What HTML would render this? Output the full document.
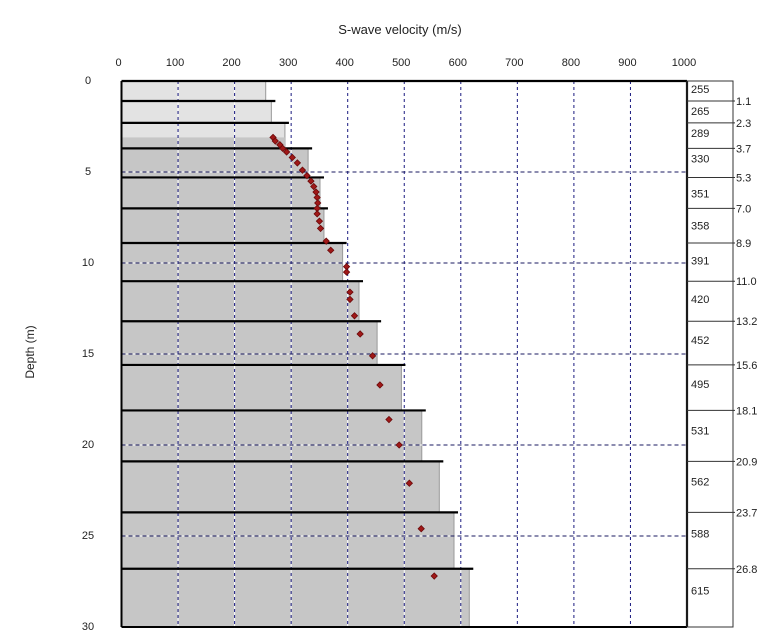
<!DOCTYPE html>
<html><head><meta charset="utf-8"><style>
body{margin:0;background:#fff;}
svg{display:block;font-family:"Liberation Sans",Arial,sans-serif;}
</style></head><body>
<svg id="c" width="768" height="634" xmlns="http://www.w3.org/2000/svg">
<text x="400" y="34" font-size="13" text-anchor="middle" fill="#222">S-wave velocity (m/s)</text>
<text x="34" y="352" font-size="12" text-anchor="middle" fill="#222" transform="rotate(-90 34 352)">Depth (m)</text>
<g id="g"></g>
</svg>
<script>
const boundaries=[1.1,2.3,3.7,5.3,7.0,8.9,11.0,13.2,15.6,18.1,20.9,23.7,26.8];
const velocities=[255,265,289,330,351,358,391,420,452,495,531,562,588,615];
const xTicks=[0,100,200,300,400,500,600,700,800,900,1000];
const yTicks=[0,5,10,15,20,25,30];
const pointDepths=[3.1,3.3,3.5,3.7,3.9,4.2,4.5,4.9,5.2,5.5,5.8,6.1,6.4,6.7,7.0,7.3,7.7,8.1,8.8,9.3,10.2,10.5,11.6,12.0,12.9,13.9,15.1,16.7,18.6,20.0,22.1,24.6,27.2];
const pointVels=[268,272,280,285,292,302,311,320,328,335,340,344,346,347,346,346,350,352,362,370,398,398,404,404,412,422,444,457,473,491,509,530,553];
const maxDepth=30;
const X0=121.5,X1=687,Y0=81,Y1=627;
const sx=v=>X0+(X1-X0)*v/1000;
const sy=d=>Y0+(Y1-Y0)*d/maxDepth;
const NS='http://www.w3.org/2000/svg';
const g=document.getElementById('g');
function mk(t,a,p){const e=document.createElementNS(NS,t);for(const k in a)e.setAttribute(k,a[k]);(p||g).appendChild(e);return e;}
const tops=[0].concat(boundaries), bots=boundaries.concat([maxDepth]);
velocities.forEach((v,i)=>{
  const light=i<3;
  const r=mk('rect',{x:X0,y:sy(tops[i]),width:sx(v)-X0,height:sy(bots[i])-sy(tops[i]),fill:light?'#e3e3e3':'#c6c6c6'});
  
  
  mk('line',{x1:sx(v),y1:sy(tops[i]),x2:sx(v),y2:sy(bots[i]),stroke:'#999','stroke-width':1});
});
{mk('rect',{x:X0,y:sy(3.1),width:sx(velocities[2])-X0,height:sy(boundaries[2])-sy(3.1),fill:'#c6c6c6'});}
xTicks.slice(1,-1).forEach(t=>{
  mk('line',{x1:sx(t),y1:Y0,x2:sx(t),y2:Y1,stroke:'#fff','stroke-width':1});
  const l=mk('line',{x1:sx(t),y1:Y0,x2:sx(t),y2:Y1,stroke:'#1a1a80','stroke-width':1,'stroke-dasharray':'3 3'});
  
  
});
yTicks.slice(1,-1).forEach(t=>{
  mk('line',{x1:X0,y1:sy(t),x2:X1,y2:sy(t),stroke:'#fff','stroke-width':1});
  const l=mk('line',{x1:X0,y1:sy(t),x2:X1,y2:sy(t),stroke:'#1a1a60','stroke-width':1,'stroke-dasharray':'4 3'});
  
  
});
boundaries.forEach((b,i)=>{
  const v=velocities[i+1];
  const l=mk('line',{x1:X0,y1:sy(b),x2:sx(v)+4,y2:sy(b),stroke:'#000','stroke-width':2.2});
  
  
});
mk('line',{x1:X0,y1:Y0,x2:X1,y2:Y0,stroke:'#000','stroke-width':2.2});
mk('line',{x1:X0,y1:Y0,x2:X0,y2:Y1,stroke:'#000','stroke-width':2});
mk('line',{x1:X0,y1:Y1,x2:X1,y2:Y1,stroke:'#000','stroke-width':2});
mk('line',{x1:X1,y1:Y0,x2:X1,y2:Y1,stroke:'#000','stroke-width':2.2});
pointDepths.forEach((d,i)=>{
  const c=mk('rect',{x:sx(pointVels[i])-2.2,y:sy(d)-2.2,width:4.4,height:4.4,fill:'#a01818',stroke:'#6a0a0a','stroke-width':0.8,transform:`rotate(45 ${sx(pointVels[i])} ${sy(d)})`});
  
  
});
xTicks.forEach(t=>{
  const e=mk('text',{x:sx(t)-3,y:66,'font-size':11,'text-anchor':'middle',fill:'#222'});
  e.textContent=t;
  
  
});
yTicks.forEach(t=>{
  const e=mk('text',{x:88,y:sy(t)+3,'font-size':11,'text-anchor':'middle',fill:'#222'});
  e.textContent=t;
  
  
});
const TX=733;
const box=mk('rect',{x:X1,y:Y0,width:TX-X1,height:Y1-Y0,fill:'none',stroke:'#333','stroke-width':1});


boundaries.forEach(b=>{
  mk('line',{x1:X1,y1:sy(b),x2:TX+2,y2:sy(b),stroke:'#333','stroke-width':1});
  const e=mk('text',{x:TX+3,y:sy(b)+4,'font-size':11,fill:'#222'});
  e.textContent=b.toFixed(1);
  
  
});
velocities.forEach((v,i)=>{
  const h=sy(bots[i])-sy(tops[i]);
  const e=mk('text',{x:X1+4,y:sy(tops[i])+Math.min(12,h/2+4)+(h>30?h*0.2:0)+(i>0?2:0),'font-size':11,fill:'#222'});
  e.textContent=v;
  
  
});
</script>
</body></html>
